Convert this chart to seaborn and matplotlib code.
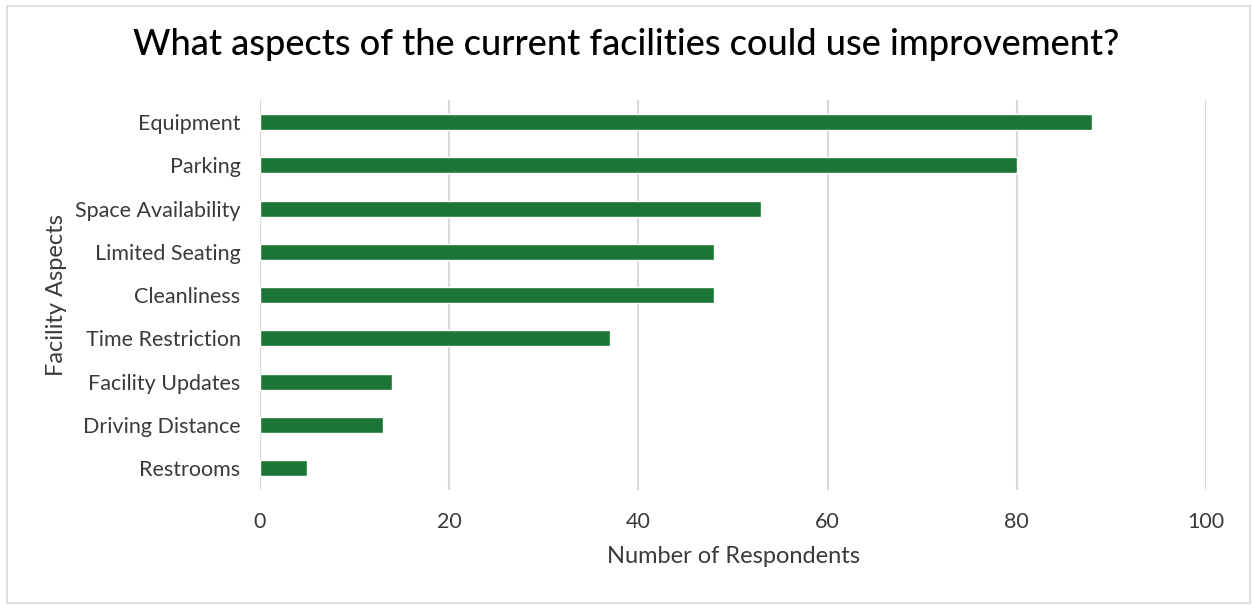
import matplotlib
matplotlib.use("Agg")
import matplotlib.pyplot as plt
from matplotlib.patches import Rectangle
import seaborn as sns
import pandas as pd

aspects = ["Equipment", "Parking", "Space Availability", "Limited Seating",
           "Cleanliness", "Time Restriction", "Facility Updates",
           "Driving Distance", "Restrooms"]
respondents = [88, 80, 53, 48, 48, 37, 14, 13, 5]
x_ticks = [0, 20, 40, 60, 80, 100]

df = pd.DataFrame({"Facility Aspects": aspects, "Number of Respondents": respondents})

sns.set_theme(style="white")
plt.rcParams["font.family"] = ["Lato", "DejaVu Sans"]

text_color = "#3a3a3a"

fig = plt.figure(figsize=(12.53, 6.05), dpi=100)
ax = fig.add_axes([0.2075, 0.1907, 0.755, 0.6433])

sns.barplot(data=df, x="Number of Respondents", y="Facility Aspects",
            color="#1b7535", saturation=1, width=0.37, ax=ax, zorder=3)

ax.set_xlim(0, 100)
ax.set_xticks(x_ticks)
ax.xaxis.grid(True, color="#d9d9d9", linewidth=1.5, zorder=0)
ax.yaxis.grid(False)
for s in ax.spines.values():
    s.set_visible(False)
ax.tick_params(axis="both", length=0, labelsize=15.5, colors=text_color)
ax.tick_params(axis="x", pad=16)
ax.tick_params(axis="y", pad=14)

ax.set_xlabel("Number of Respondents", fontsize=17, color=text_color, labelpad=10)
ax.set_ylabel("Facility Aspects", fontsize=17, color=text_color, labelpad=6)

fig.text(0.5, 0.926, "What aspects of the current facilities could use improvement?",
         ha="center", va="center", fontsize=26, color="black", fontweight="medium")

fig.patches.append(Rectangle((7 / 1253, 2 / 605), 1243 / 1253, 597 / 605,
                             transform=fig.transFigure, fill=False,
                             edgecolor="#d9d9d9", linewidth=1.2))

fig.savefig("out.png", dpi=100, facecolor="white")
